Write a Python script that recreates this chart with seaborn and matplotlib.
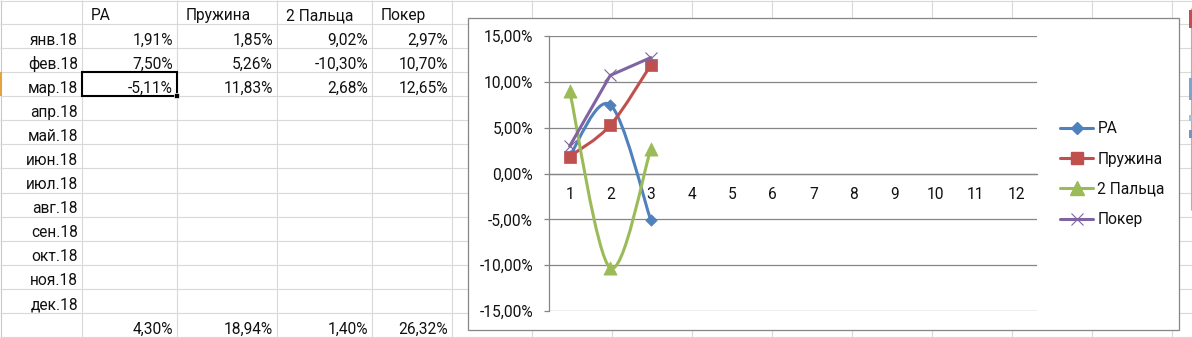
import numpy as np
import pandas as pd
import matplotlib
matplotlib.use("Agg")
import matplotlib.pyplot as plt
import seaborn as sns
from matplotlib.path import Path
from matplotlib.patches import PathPatch, Rectangle
from matplotlib.lines import Line2D
from matplotlib.ticker import FuncFormatter, FixedLocator

# ---------------- data ----------------
months = ["янв.18", "фев.18", "мар.18", "апр.18", "май.18", "июн.18",
          "июл.18", "авг.18", "сен.18", "окт.18", "ноя.18", "дек.18"]
series_names = ["РА", "Пружина", "2 Пальца", "Покер"]
ra = [1.91, 7.50, -5.11]
pruzhina = [1.85, 5.26, 11.83]
dva_paltsa = [9.02, -10.30, 2.68]
poker = [2.97, 10.70, 12.65]
totals = [4.30, 18.94, 1.40, 26.32]
x_categories = list(range(1, 13))
y_ticks = [-15, -10, -5, 0, 5, 10, 15]

# ---------------- style ----------------
sns.set_theme(style="white")
plt.rcParams["font.family"] = ["Roboto", "DejaVu Sans"]
FS = 11.2

W, H = 1192, 338
fig = plt.figure(figsize=(W / 100, H / 100), dpi=100)
fig.patch.set_facecolor("white")

# ---------------- spreadsheet background ----------------
bg = fig.add_axes([0, 0, 1, 1])
bg.set_xlim(0, W)
bg.set_ylim(H, 0)
bg.axis("off")

grid_c = "#D9D9D9"
col_edges = [0, 82, 177, 277, 372, 452]
extra_cols = list(range(532, W, 80))
row_h = 24.07
row_edges = [row_h * k for k in range(15)]

for x in col_edges[1:] + extra_cols:
    bg.vlines(x, 0, H, color=grid_c, lw=0.8, zorder=1)
bg.vlines(1, 0, H, color="#C8C8C8", lw=0.8, zorder=1)
bg.hlines(0.5, 0, W, color=grid_c, lw=0.8, zorder=1)
for y in row_edges[1:]:
    bg.hlines(y, 0, W, color=grid_c, lw=0.8, zorder=1)

def fmt_pct(v):
    return f"{v:.2f}%".replace(".", ",")

txt_c = "#111111"
# header row
for j, name in enumerate(series_names):
    bg.text(col_edges[j + 1] + 9, row_edges[1] - 4, name, ha="left",
            va="baseline", fontsize=FS, color=txt_c, zorder=2)
# month labels
for i, m in enumerate(months):
    bg.text(col_edges[1] - 4, row_edges[i + 2] - 3.5, m, ha="right",
            va="baseline", fontsize=FS, color=txt_c, zorder=2)
# values
for j, vals in enumerate([ra, pruzhina, dva_paltsa, poker]):
    for i, v in enumerate(vals):
        bg.text(col_edges[j + 2] - 4, row_edges[i + 2] - 3.5, fmt_pct(v),
                ha="right", va="baseline", fontsize=FS, color=txt_c, zorder=2)
# totals row
for j, v in enumerate(totals):
    bg.text(col_edges[j + 2] - 4, row_edges[14] - 3.5, fmt_pct(v),
            ha="right", va="baseline", fontsize=FS, color=txt_c, zorder=2)

# selected cell
bg.add_patch(Rectangle((col_edges[1], row_edges[3]), col_edges[2] - col_edges[1],
                       row_h, fill=False, ec="black", lw=1.5, zorder=3))
bg.add_patch(Rectangle((col_edges[2] - 3, row_edges[4] - 3), 5, 5,
                       fc="black", ec="white", lw=0.5, zorder=4))
# active row indicator
bg.add_patch(Rectangle((0, row_edges[3]), 2, row_h, fc="#E3A33D", ec="none", zorder=2))

# object at right edge (partly visible)
bg.vlines(1190.5, 8, 210, color="#B0B0B0", lw=0.8, zorder=2)
bg.add_patch(Rectangle((1189, 10), 3, 18, fc="#C0504D", ec="none", zorder=2))
bg.add_patch(Rectangle((1189, 78), 3, 22, fc="#7FA3D0", ec="none", zorder=2))
bg.add_patch(Rectangle((1189, 115), 3, 6, fc="#9CC3E6", ec="none", zorder=2))
bg.add_patch(Rectangle((1189, 130), 3, 8, fc="#6F96C8", ec="none", zorder=2))

# chart frame
bg.add_patch(Rectangle((468.3, 18.3), 711, 311.7, fc="white", ec="#868686",
                       lw=0.9, zorder=5))

# ---------------- chart axes ----------------
ax_l, ax_r, ax_t, ax_b = 549.3, 1036.7, 36.0, 311.0
ax = fig.add_axes([ax_l / W, 1 - ax_b / H, (ax_r - ax_l) / W, (ax_b - ax_t) / H])
ax.set_zorder(6)
ax.patch.set_alpha(0)

axis_c = "#868686"
colors = {"РА": "#4F81BD", "Пружина": "#C0504D", "2 Пальца": "#9BBB59", "Покер": "#8064A2"}
LW = 2.2

def smooth_path(xs, ys):
    pts = np.column_stack([xs, ys]).astype(float)
    n = len(pts)
    verts = [pts[0]]
    codes = [Path.MOVETO]
    for i in range(n - 1):
        p0 = pts[i - 1] if i > 0 else pts[i]
        p1 = pts[i]
        p2 = pts[i + 1]
        p3 = pts[i + 2] if i + 2 < n else pts[i + 1]
        verts += [p1 + (p2 - p0) / 6.0, p2 - (p3 - p1) / 6.0, p2]
        codes += [Path.CURVE4] * 3
    return Path(verts, codes)

xs = x_categories[:3]
df = pd.DataFrame({"x": xs, "РА": ra, "Пружина": pruzhina,
                   "2 Пальца": dva_paltsa, "Покер": poker})

# smoothed series
marker_spec = {"РА": ("D", 5.8), "Пружина": ("s", 9.0), "2 Пальца": ("^", 9.5)}
for name in ["РА", "Пружина", "2 Пальца"]:
    ax.add_patch(PathPatch(smooth_path(df["x"], df[name]), fill=False,
                           ec=colors[name], lw=LW, capstyle="round",
                           joinstyle="round", zorder=3))
    mk, ms = marker_spec[name]
    sns.scatterplot(data=df, x="x", y=name, marker=mk, s=ms ** 2,
                    color=colors[name], edgecolor=colors[name], linewidth=0.5,
                    ax=ax, zorder=4, legend=False)

# straight series
sns.lineplot(data=df, x="x", y="Покер", color=colors["Покер"], lw=LW,
             marker="x", markersize=9, markeredgewidth=0.8,
             markeredgecolor=colors["Покер"], ax=ax, zorder=5, legend=False)

ax.set_xlabel("")
ax.set_ylabel("")
ax.set_xlim(0.5, 12.5)
ax.set_ylim(-15, 15)

ax.yaxis.set_major_locator(FixedLocator(y_ticks))
ax.yaxis.set_major_formatter(FuncFormatter(lambda v, p: fmt_pct(v)))
ax.grid(axis="y", color=axis_c, lw=0.9)
ax.grid(axis="x", visible=False)
for s in ["top", "right"]:
    ax.spines[s].set_visible(False)
ax.spines["left"].set_color(axis_c)
ax.spines["left"].set_linewidth(0.9)
ax.spines["bottom"].set_position(("data", 0))
ax.spines["bottom"].set_color(axis_c)
ax.spines["bottom"].set_linewidth(0.9)

ax.xaxis.set_major_locator(FixedLocator(x_categories))
ax.xaxis.set_minor_locator(FixedLocator([c - 0.5 for c in x_categories] + [12.5]))
ax.set_xticklabels([str(c) for c in x_categories])
ax.tick_params(axis="x", which="major", length=0, pad=10, labelsize=FS, labelcolor=txt_c)
ax.tick_params(axis="x", which="minor", length=3.8, width=0.9, color=axis_c, direction="out")
ax.tick_params(axis="y", which="major", length=3.8, width=0.9, color=axis_c,
               direction="out", pad=8, labelsize=FS, labelcolor=txt_c, left=True)

# legend
handles = [
    Line2D([], [], color=colors["РА"], lw=LW, marker="D", markersize=5.8),
    Line2D([], [], color=colors["Пружина"], lw=LW, marker="s", markersize=9),
    Line2D([], [], color=colors["2 Пальца"], lw=LW, marker="^", markersize=9.5),
    Line2D([], [], color=colors["Покер"], lw=LW, marker="x", markersize=9,
           markeredgewidth=0.8),
]
leg = fig.legend(handles, series_names, loc="center left",
                 bbox_to_anchor=(1060 / W, 1 - 174.3 / H), frameon=False,
                 fontsize=FS, handlelength=2.15, handletextpad=0.25,
                 labelspacing=0.98, borderpad=0, borderaxespad=0)
leg.set_zorder(7)
for t in leg.get_texts():
    t.set_color(txt_c)

fig.savefig("out.png", dpi=100)
